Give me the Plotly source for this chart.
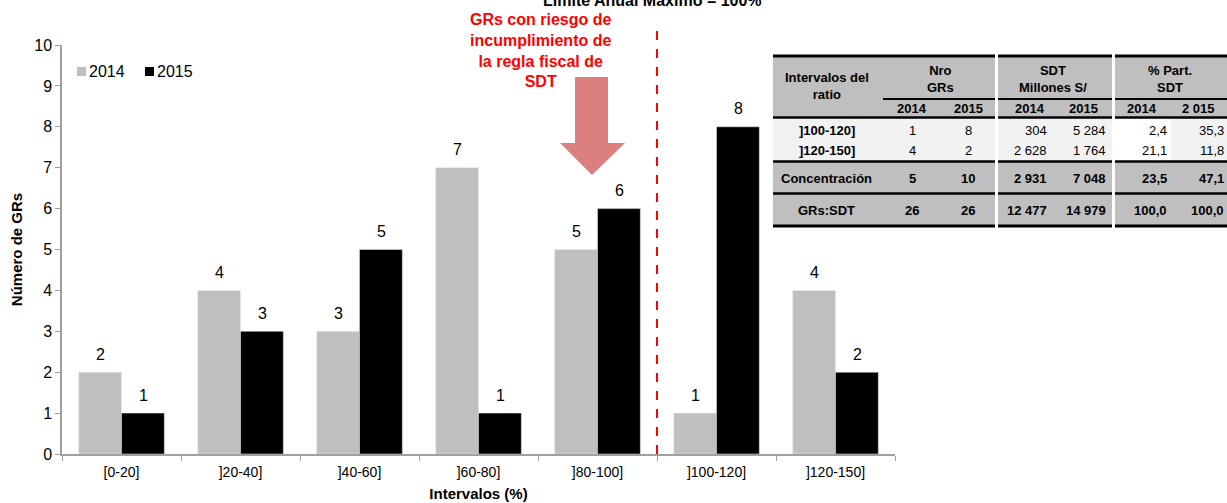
import plotly.graph_objects as go

# ---------------- data ----------------
categories = ["[0-20]", "]20-40]", "]40-60]", "]60-80]", "]80-100]", "]100-120]", "]120-150]"]
gr_2014 = [2, 4, 3, 7, 5, 1, 4]
gr_2015 = [1, 3, 5, 1, 6, 8, 2]
series_names = ["2014", "2015"]
series_colors = ["#BFBFBF", "#000000"]

tbl_rows = ["]100-120]", "]120-150]", "Concentración", "GRs:SDT"]
tbl_nro_2014 = ["1", "4", "5", "26"]
tbl_nro_2015 = ["8", "2", "10", "26"]
tbl_sdt_2014 = ["304", "2 628", "2 931", "12 477"]
tbl_sdt_2015 = ["5 284", "1 764", "7 048", "14 979"]
tbl_pct_2014 = ["2,4", "21,1", "23,5", "100,0"]
tbl_pct_2015 = ["35,3", "11,8", "47,1", "100,0"]

FONT = "Liberation Sans, Arial, sans-serif"
W, H = 1227, 503
L, T, B = 62, 45, 49
PLOT_W = W - L
PLOT_H = H - T - B
X_END = 895
BAR_PX = 21.5  # half-offset of grouped bars in pixels


def X(px):
    return (px - L) / PLOT_W


def Y(py):
    return (H - B - py) / PLOT_H


fig = go.Figure()
shapes = []
annotations = []

for k, (name, vals, col) in enumerate(zip(series_names, [gr_2014, gr_2015], series_colors)):
    fig.add_trace(go.Bar(x=categories, y=vals, name=name, marker_color=col, showlegend=False))
    for c, v in zip(categories, vals):
        annotations.append(dict(xref="x", yref="y", x=c, y=v, xshift=(-1 if k == 0 else 1) * BAR_PX,
                                yshift=18, yanchor="middle", xanchor="center", text=str(v),
                                showarrow=False, font=dict(size=16, color="black", family=FONT)))

# manual legend
for i, (name, col) in enumerate(zip(series_names, series_colors)):
    x0 = 77 + i * 68
    shapes.append(dict(type="rect", xref="paper", yref="paper", x0=X(x0), x1=X(x0 + 9),
                       y0=Y(76), y1=Y(67), fillcolor=col, line=dict(width=0)))
    annotations.append(dict(xref="paper", yref="paper", x=X(x0 + 10), y=Y(71.5), xanchor="left",
                            yanchor="middle", text=name, showarrow=False,
                            font=dict(size=16, color="black", family=FONT)))

# dashed red limit line between ]80-100] and ]100-120]
shapes.append(dict(type="line", xref="x", yref="paper", x0=4.5, x1=4.5, y0=0, y1=Y(22),
                   line=dict(color="#FF0000", width=2, dash="dash")))

# arrow
pts = [(575, 77), (608, 77), (608, 143), (625, 143), (592, 175), (560, 143), (575, 143)]
path = "M " + " L ".join(f"{X(a):.5f},{Y(b):.5f}" for a, b in pts) + " Z"
shapes.append(dict(type="path", xref="paper", yref="paper", path=path,
                   fillcolor="#DB7F7F", line=dict(width=0)))

# red text
annotations.append(dict(xref="paper", yref="paper", x=X(540), y=Y(50), xanchor="center", yanchor="middle",
                        text="<b>GRs con riesgo de<br>incumplimiento de<br>la regla fiscal de<br>SDT</b>",
                        showarrow=False, font=dict(size=16, color="#FF0000", family=FONT)))

# cut title on top (as in the reference)
annotations.append(dict(xref="paper", yref="paper", x=X(652), y=Y(0), xanchor="center", yanchor="middle",
                        text="<b>Límite Anual Máximo = 100%</b>", showarrow=False,
                        font=dict(size=16, color="black", family=FONT)))

# ---------------- table ----------------
sections = [(773, 995), (998, 1112), (1115, 1227)]
GREY = "#BFBFBF"
LIGHT = "#F2F2F2"
for x0, x1 in sections:
    shapes.append(dict(type="rect", xref="paper", yref="paper", x0=X(x0), x1=X(x1), y0=Y(117), y1=Y(56),
                       fillcolor=GREY, line=dict(width=0), layer="below"))
    shapes.append(dict(type="rect", xref="paper", yref="paper", x0=X(x0), x1=X(x1), y0=Y(161), y1=Y(118),
                       fillcolor=LIGHT, line=dict(width=0), layer="below"))
    shapes.append(dict(type="rect", xref="paper", yref="paper", x0=X(x0), x1=X(x1), y0=Y(226), y1=Y(162),
                       fillcolor=GREY, line=dict(width=0), layer="below"))
shapes.append(dict(type="rect", xref="paper", yref="paper", x0=X(1115), x1=X(1171), y0=Y(161), y1=Y(118),
                   fillcolor="white", line=dict(width=0), layer="below"))


def hline(py, x0, x1, w):
    shapes.append(dict(type="line", xref="paper", yref="paper", x0=X(x0), x1=X(x1), y0=Y(py), y1=Y(py),
                       line=dict(color="black", width=w)))


for x0, x1 in sections:
    hline(56, x0, x1, 3)
    hline(117.5, x0, x1, 2.5)
    hline(161.5, x0, x1, 2.5)
    hline(193.5, x0, x1, 2.5)
    hline(226, x0, x1, 3)
hline(99, 883, 995, 2)
hline(99, 998, 1112, 2)
hline(99, 1115, 1227, 2)


def txt(s, px, py, anchor="center", bold=False, size=13):
    annotations.append(dict(xref="paper", yref="paper", x=X(px), y=Y(py), xanchor=anchor, yanchor="middle",
                            text=f"<b>{s}</b>" if bold else s, showarrow=False,
                            font=dict(size=size, color="black", family=FONT)))


txt("Intervalos del<br>ratio", 827, 86, bold=True)
txt("Nro<br>GRs", 940, 79, bold=True)
txt("SDT<br>Millones S/", 1053, 79, bold=True)
txt("% Part.<br>SDT", 1170, 79, bold=True)
for s, px in [("2014", 912), ("2015", 968), ("2014", 1030), ("2015", 1083), ("2014", 1142), ("2 015", 1198)]:
    txt(s, px, 108, bold=True)

row_y = [130, 150, 178, 210.5]
for i, ry in enumerate(row_y):
    bold = i >= 2
    txt(tbl_rows[i], 827, ry, bold=True)
    txt(tbl_nro_2014[i], 912, ry, bold=bold)
    txt(tbl_nro_2015[i], 968, ry, bold=bold)
    txt(tbl_sdt_2014[i], 1049, ry, anchor="right", bold=bold)
    txt(tbl_sdt_2015[i], 1108, ry, anchor="right", bold=bold)
    txt(tbl_pct_2014[i], 1169, ry, anchor="right", bold=bold)
    txt(tbl_pct_2015[i], 1226, ry, anchor="right", bold=bold)

fig.update_layout(
    width=W, height=H,
    margin=dict(l=L, r=0, t=T, b=B),
    paper_bgcolor="white", plot_bgcolor="white",
    font=dict(family=FONT, color="black"),
    barmode="group", bargap=0.28, bargroupgap=0,
    showlegend=False,
    shapes=shapes, annotations=annotations,
    xaxis=dict(domain=[0, X(X_END)], showline=True, linecolor="#A0A0A0", linewidth=1.5,
               ticks="outside", tickson="boundaries", ticklen=5, tickcolor="#A0A0A0",
               ticklabelstandoff=4,
               tickfont=dict(size=14, family=FONT), showgrid=False,
               title=dict(text="<b>Intervalos (%)</b>", font=dict(size=15, family=FONT), standoff=10)),
    yaxis=dict(range=[0, 10], dtick=1, showline=True, linecolor="#A0A0A0", linewidth=1.5,
               ticks="outside", ticklen=5, tickcolor="#A0A0A0", showgrid=False, zeroline=False,
               tickfont=dict(size=16, family=FONT),
               title=dict(text="<b>Número de GRs</b>", font=dict(size=15, family=FONT), standoff=8)),
)

fig.write_html("out.html", config={"displayModeBar": False},
               post_script="document.body.style.margin='0';document.body.style.overflow='hidden';")
